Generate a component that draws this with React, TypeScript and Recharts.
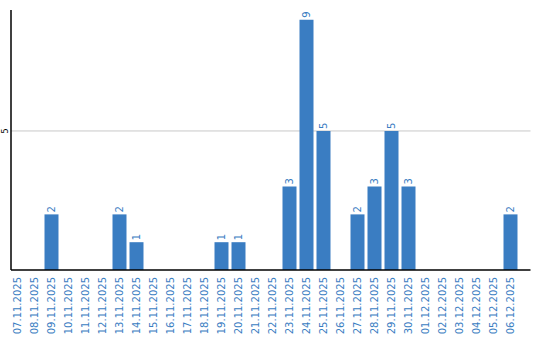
import React from "react";
import { BarChart, Bar, XAxis, YAxis, CartesianGrid, LabelList } from "recharts";

const dates = [
  "07.11.2025", "08.11.2025", "09.11.2025", "10.11.2025", "11.11.2025",
  "12.11.2025", "13.11.2025", "14.11.2025", "15.11.2025", "16.11.2025",
  "17.11.2025", "18.11.2025", "19.11.2025", "20.11.2025", "21.11.2025",
  "22.11.2025", "23.11.2025", "24.11.2025", "25.11.2025", "26.11.2025",
  "27.11.2025", "28.11.2025", "29.11.2025", "30.11.2025", "01.12.2025",
  "02.12.2025", "03.12.2025", "04.12.2025", "05.12.2025", "06.12.2025",
];
const counts = [0, 0, 2, 0, 0, 0, 2, 1, 0, 0, 0, 0, 1, 1, 0, 0, 3, 9, 5, 0, 2, 3, 5, 3, 0, 0, 0, 0, 0, 2];
const yTicks = [5];

const BLUE = "#3a7dc2";
const FONT = "DejaVu Sans";

const data = dates.map((d, i) => ({ date: d, count: counts[i] }));

const DateTick = (props: any) => {
  const { x, payload } = props;
  return (
    <text
      x={0}
      y={0}
      transform={`translate(${x + 3.5},277) rotate(-90)`}
      textAnchor="end"
      fontFamily={FONT}
      fontSize={10}
      fill={BLUE}
    >
      {payload.value}
    </text>
  );
};

const ValueTick = (props: any) => {
  const { y, payload } = props;
  return (
    <text
      x={0}
      y={0}
      transform={`translate(7.5,${y}) rotate(-90)`}
      textAnchor="middle"
      fontFamily={FONT}
      fontSize={8}
      fill="#000"
    >
      {payload.value}
    </text>
  );
};

const BarValue = (props: any) => {
  const { x, y, width, value } = props;
  if (!value) return null;
  return (
    <text
      x={0}
      y={0}
      transform={`translate(${x + width / 2 + 3.5},${y - 2}) rotate(-90)`}
      textAnchor="start"
      fontFamily={FONT}
      fontSize={10}
      fill={BLUE}
    >
      {value}
    </text>
  );
};

export default function App() {
  return (
    <div style={{ position: "absolute", left: 0, top: 0, background: "#fff" }}>
      <BarChart
        width={540}
        height={340}
        data={data}
        margin={{ top: 10, right: 9.5, bottom: 69, left: 10 }}
        barCategoryGap={0}
      >
        <CartesianGrid vertical={false} horizontalValues={yTicks} stroke="#c8c8c8" strokeWidth={1} />
        <XAxis
          dataKey="date"
          interval={0}
          height={1}
          tickLine={false}
          axisLine={{ stroke: "#000", strokeWidth: 1.5 }}
          padding={{ left: -2.5, right: 12 }}
          tick={<DateTick />}
        />
        <YAxis
          width={1}
          domain={[0, 9.35]}
          ticks={yTicks}
          tickLine={false}
          axisLine={{ stroke: "#000", strokeWidth: 1.5 }}
          tick={<ValueTick />}
        />
        <Bar dataKey="count" fill={BLUE} barSize={14} isAnimationActive={false}>
          <LabelList dataKey="count" content={<BarValue />} />
        </Bar>
      </BarChart>
    </div>
  );
}
